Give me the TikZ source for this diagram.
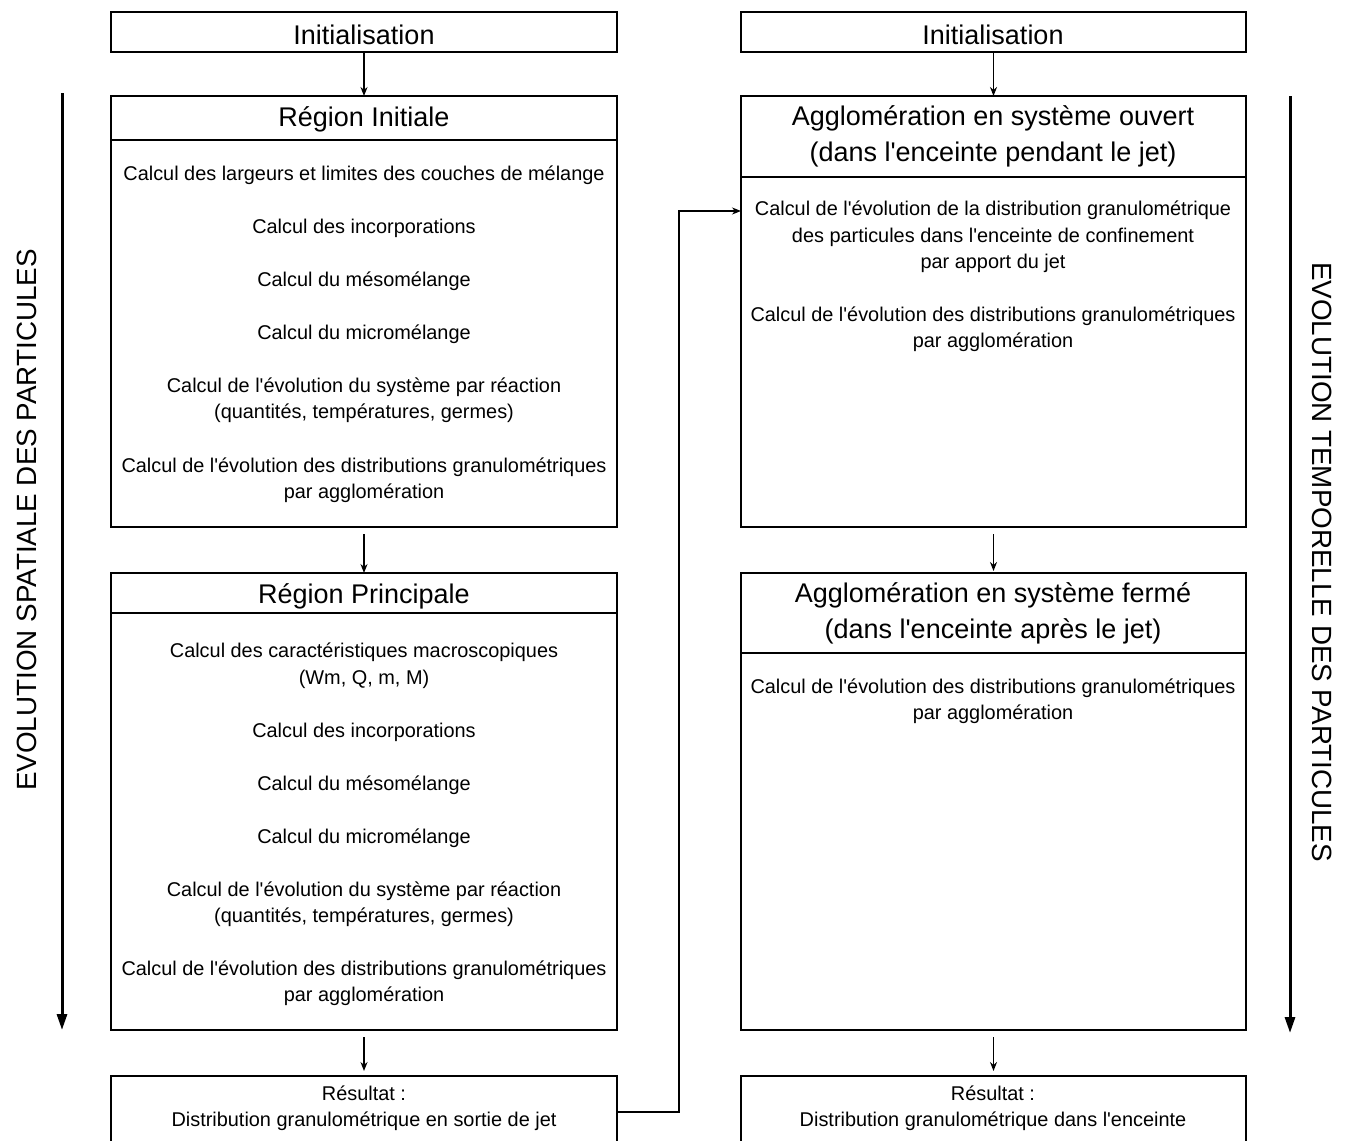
\documentclass[tikz,border=0pt]{standalone}
\usepackage{fontspec}
\newfontfamily\arialf{Liberation Sans}
\usetikzlibrary{arrows.meta}
\begin{document}
\begin{tikzpicture}[x=1pt,y=-1pt,
  box/.style={draw,line width=2.8pt,anchor=north west,inner sep=0pt,outer sep=0pt},
  head/.style={font=\arialf\fontsize{27}{36}\selectfont,align=center,inner sep=0pt,yshift=-3pt},
  body/.style={font=\arialf\fontsize{19.9}{26.5}\selectfont,align=center,inner sep=0pt,yshift=-2pt},
  side/.style={font=\arialf\fontsize{27.8}{30}\selectfont,inner sep=0pt},
  small/.style={-{Stealth[length=9pt,width=7pt]},line width=1.4pt},
  big/.style={-{Triangle[length=16pt,width=10pt]},line width=3pt},
  divider/.style={line width=1.5pt}]
\useasboundingbox (0,0) rectangle (1351,1140);
% boxes
\node[box,minimum width=506pt,minimum height=40pt] (initL) at (111,12) {};
\node[box,minimum width=506pt,minimum height=431pt] (riL) at (111,96) {};
\node[box,minimum width=506pt,minimum height=457pt] (rpL) at (111,573) {};
\node[box,minimum width=506pt,minimum height=72pt] (resL) at (111,1076) {};
\node[box,minimum width=505pt,minimum height=40pt] (initR) at (741,12) {};
\node[box,minimum width=505pt,minimum height=431pt] (aoR) at (741,96) {};
\node[box,minimum width=505pt,minimum height=457pt] (afR) at (741,573) {};
\node[box,minimum width=505pt,minimum height=72pt] (resR) at (741,1076) {};
% dividers
\draw[divider] (111,140) -- (617,140);
\draw[divider] (111,613) -- (617,613);
\draw[divider] (741,177) -- (1246,177);
\draw[divider] (741,653) -- (1246,653);
% left texts
\node[head] (tInitL) at (364,32) {Initialisation};
\node[head] (tRI) at (364,116) {Région Initiale};
\node[body] (l1) at (364,173) {Calcul des largeurs et limites des couches de mélange};
\node[body] (l2) at (364,226) {Calcul des incorporations};
\node[body] (l3) at (364,279) {Calcul du mésomélange};
\node[body] (l4) at (364,332) {Calcul du micromélange};
\node[body] (l5) at (364,398) {Calcul de l'évolution du système par réaction\\(quantités, températures, germes)};
\node[body] (l6) at (364,478) {Calcul de l'évolution des distributions granulométriques\\par agglomération};
\node[head] (tRP) at (364,593) {Région Principale};
\node[body] (p1) at (364,663.5) {Calcul des caractéristiques macroscopiques\\(Wm, Q, m, M)};
\node[body] (p2) at (364,730) {Calcul des incorporations};
\node[body] (p3) at (364,783) {Calcul du mésomélange};
\node[body] (p4) at (364,836) {Calcul du micromélange};
\node[body] (p5) at (364,902) {Calcul de l'évolution du système par réaction\\(quantités, températures, germes)};
\node[body] (p6) at (364,981) {Calcul de l'évolution des distributions granulométriques\\par agglomération};
\node[body] (tResL) at (364,1106) {Résultat :\\Distribution granulométrique en sortie de jet};
% right texts
\node[head] (tInitR) at (993,32) {Initialisation};
\node[head] (tAO) at (993,133) {Agglomération en système ouvert\\(dans l'enceinte pendant le jet)};
\node[body] (r1) at (993,235) {Calcul de l'évolution de la distribution granulométrique\\des particules dans l'enceinte de confinement\\par apport du jet};
\node[body] (r2) at (993,327) {Calcul de l'évolution des distributions granulométriques\\par agglomération};
\node[head] (tAF) at (993,610) {Agglomération en système fermé\\(dans l'enceinte après le jet)};
\node[body] (f1) at (993,699) {Calcul de l'évolution des distributions granulométriques\\par agglomération};
\node[body] (tResR) at (993,1106) {Résultat :\\Distribution granulométrique dans l'enceinte};
% side labels
\node[side,rotate=90] (sideL) at (27,520) {EVOLUTION SPATIALE DES PARTICULES};
\node[side,rotate=-90] (sideR) at (1322,562) {EVOLUTION TEMPORELLE DES PARTICULES};
\coordinate (aLs) at (62,93);
\coordinate (aLe) at (62,1030);
\coordinate (aRs) at (1290,96);
\coordinate (aRe) at (1290,1033);
\draw[big] (aLs) -- (aLe);
\draw[big] (aRs) -- (aRe);
% connectors
\draw[small] (initL.south) -- (riL.north);
\draw[small] (initR.south) -- (aoR.north);
\draw[small,shorten <=7pt] (riL.south) -- (rpL.north);
\draw[small,shorten <=7pt,shorten >=2pt] (aoR.south) -- (afR.north);
\draw[small,shorten <=7pt,shorten >=5pt] (rpL.south) -- (resL.north);
\draw[small,shorten <=7pt,shorten >=5pt] (afR.south) -- (resR.north);
\coordinate (jbend) at (679,211);
\coordinate (jin) at (741,211);
\draw[small] (resL.east) -| (jbend) -- (jin);
\end{tikzpicture}
\end{document}
